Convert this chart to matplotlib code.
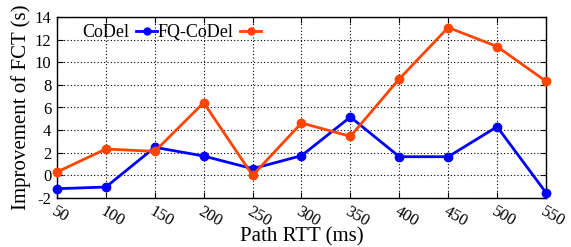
import matplotlib
matplotlib.use("Agg")
import matplotlib.pyplot as plt
from matplotlib.lines import Line2D

rtt = [50, 100, 150, 200, 250, 300, 350, 400, 450, 500, 550]
codel = [-1.18, -1.03, 2.48, 1.71, 0.59, 1.74, 5.16, 1.65, 1.65, 4.3, -1.53]
fq_codel = [0.3, 2.33, 2.12, 6.43, 0.0, 4.63, 3.45, 8.53, 13.07, 11.39, 8.32]
yticks = list(range(-2, 15, 2))

plt.rcParams['font.family'] = ['Liberation Serif', 'DejaVu Serif']

fig = plt.figure(figsize=(5.71, 2.47), dpi=100)
ax = fig.add_axes([57/571, 1 - 198/247, (546-57)/571, (198-17)/247])

blue = '#0000ff'
orange = '#ff4500'
ax.plot(rtt, codel, color=blue, lw=2, marker='o', ms=6, clip_on=False, zorder=3)
ax.plot(rtt, fq_codel, color=orange, lw=2, marker='o', ms=6, clip_on=False, zorder=3)

ax.set_xlim(50, 550)
ax.set_ylim(-2, 14)
ax.set_xticks(rtt)
ax.set_yticks(yticks)
ax.set_xticklabels([str(v) for v in rtt], rotation=-30, ha='left', va='top',
                   rotation_mode='anchor', fontsize=12)
ax.set_yticklabels([str(v) for v in yticks], fontsize=12)
ax.tick_params(direction='in', top=True, right=True, length=4, width=0.8, pad=4)
ax.grid(True, color='black', linestyle=(0, (1, 2)), linewidth=0.8)
for s in ax.spines.values():
    s.set_linewidth(1.0)

ax.set_xlabel('Path RTT (ms)', fontsize=15, labelpad=-2)
ax.set_ylabel('Improvement of FCT (s)', fontsize=15, labelpad=3)

handles = [Line2D([], [], color=blue, lw=2, marker='o', ms=5),
           Line2D([], [], color=orange, lw=2, marker='o', ms=5)]
leg = ax.legend(handles, ['CoDel', 'FQ-CoDel'], ncol=2, markerfirst=False,
                frameon=False, loc='upper left', bbox_to_anchor=(0.03, 1.02),
                fontsize=13, handlelength=1.2, handletextpad=0.35, columnspacing=0.0,
                borderaxespad=0.2)

fig.savefig('out.png', dpi=100)
